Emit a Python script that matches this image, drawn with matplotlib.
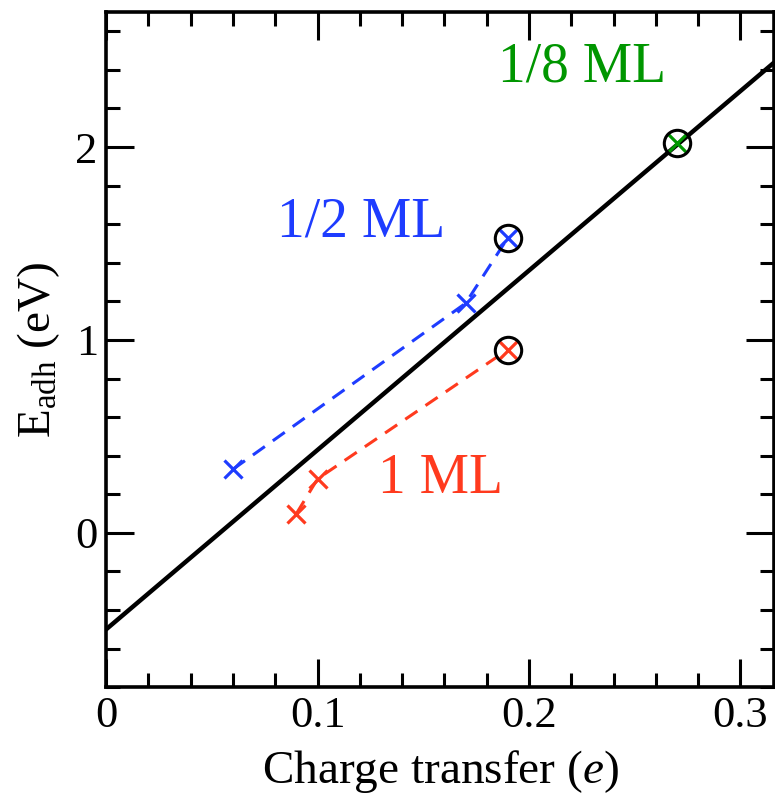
import matplotlib
matplotlib.use("Agg")
import matplotlib.pyplot as plt
from matplotlib.ticker import MultipleLocator

plt.rcParams["font.family"] = ["Liberation Serif", "DejaVu Serif"]
plt.rcParams["mathtext.fontset"] = "custom"
plt.rcParams["mathtext.rm"] = "Liberation Serif"
plt.rcParams["mathtext.it"] = "Liberation Serif:italic"

# fitted line E = a + b*q
fit_x = [0.0, 0.32]
fit_intercept = -0.5
fit_slope = 9.3

# coverage series
half_x = [0.06, 0.17, 0.19]
half_y = [0.33, 1.19, 1.53]
one_x = [0.09, 0.10, 0.19]
one_y = [0.10, 0.28, 0.95]
eighth_x = [0.27]
eighth_y = [2.02]

# circled points
circ_x = [0.19, 0.19, 0.27]
circ_y = [1.53, 0.95, 2.02]

blue = "#1e3cff"
red = "#ff3a1e"
green = "#009600"

fig = plt.figure(figsize=(7.75, 8), dpi=100)
ax = fig.add_axes([0.137, 0.141, 0.862, 0.844])

fit_y = [fit_intercept + fit_slope * x for x in fit_x]
ax.plot(fit_x, fit_y, color="black", lw=3.2, zorder=2)

dash = (0, (4.8, 3.2))
ax.plot(half_x, half_y, color=blue, ls=dash, lw=2.2, marker="x",
        ms=13, mew=2.3, zorder=3)
ax.plot(one_x, one_y, color=red, ls=dash, lw=2.2, marker="x",
        ms=13, mew=2.3, zorder=3)
ax.plot(eighth_x, eighth_y, color=green, ls="none", marker="x",
        ms=13, mew=2.3, zorder=3)
ax.plot(circ_x, circ_y, ls="none", marker="o", ms=19, mfc="none",
        mec="black", mew=2.2, zorder=4)

ax.text(0.1853, 2.34, "1/8 ML", color=green, fontsize=40, ha="left", va="baseline")
ax.text(0.0810, 1.535, "1/2 ML", color=blue, fontsize=40, ha="left", va="baseline")
ax.text(0.1284, 0.207, "1 ML", color=red, fontsize=40, ha="left", va="baseline")

ax.set_xlim(0, 0.316)
ax.set_ylim(-0.8, 2.7)
ax.xaxis.set_minor_locator(MultipleLocator(0.02))
ax.yaxis.set_minor_locator(MultipleLocator(0.2))
ax.set_xticks([0, 0.1, 0.2, 0.3])
ax.set_xticklabels(["0", "0.1", "0.2", "0.3"])
ax.set_yticks([0, 1, 2])
ax.set_yticklabels(["0", "1", "2"])

ax.tick_params(which="both", direction="in", top=True, right=True,
               labelsize=32, width=2.2, pad=6)
ax.tick_params(which="major", length=20)
ax.tick_params(which="minor", length=10)
for s in ax.spines.values():
    s.set_linewidth(2.6)

ax.set_xlabel("Charge transfer ($\\it{e}$)", fontsize=34, labelpad=9)
ax.set_ylabel("E$_{\\rm adh}$ (eV)", fontsize=34, labelpad=10)

fig.savefig("out.png", dpi=100)
